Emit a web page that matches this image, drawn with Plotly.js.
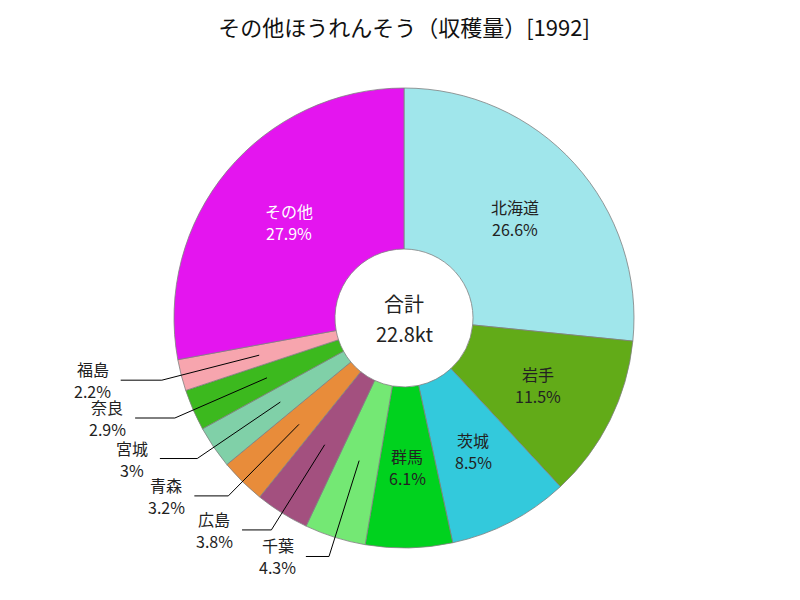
<!DOCTYPE html>
<html>
<head>
<meta charset="utf-8">
<script src="https://cdn.plot.ly/plotly-3.0.1.min.js"></script>
<style>body{margin:0;padding:0;background:#fff;}</style>
</head>
<body>
<div id="chart" style="width:800px;height:600px;"></div>
<script>
// ---- data ----
const labels = ["北海道", "岩手", "茨城", "群馬", "千葉", "広島", "青森", "宮城", "奈良", "福島", "その他"];
const values = [26.6, 11.5, 8.5, 6.1, 4.3, 3.8, 3.2, 3.0, 2.9, 2.2, 27.9];
const colors = ["#a0e6eb", "#62ab18", "#33c9dc", "#00d21e", "#74e874", "#a3507f", "#e88c3a", "#80d0a8", "#3cb91e", "#f7a5ae", "#e415ef"];
const totalLabel = "合計";
const totalText = "22.8kt";
const titleText = "その他ほうれんそう（収穫量）[1992]";

// ---- geometry ----
const W = 800, H = 600;
const m = {l: 8, r: 0, t: 88, b: 52};
const pw = W - m.l - m.r, ph = H - m.t - m.b;
const R = Math.min(pw, ph) / 2;
const cx = m.l + pw / 2, cy = m.t + ph / 2;
const toPX = x => (x - m.l) / pw;
const toPY = y => 1 - (y - m.t) / ph;
const FONT = "Noto Sans CJK JP, Noto Sans, sans-serif";

function fmtPct(v) {
  let s = (v * 100).toPrecision(3);
  if (s.indexOf('.') !== -1) s = s.replace(/[.]?0+$/, '');
  return s + '%';
}

const annotations = [];
function twoLine(x, y, a, b, size, color, gap) {
  [[a, y - gap], [b, y + gap]].forEach(([t, yy]) => {
    annotations.push({
      xref: 'paper', yref: 'paper', x: toPX(x), y: toPY(yy),
      xanchor: 'center', yanchor: 'middle', showarrow: false, text: t,
      borderpad: 0,
      font: {family: FONT, size: size, color: color}
    });
  });
}

const total = values.reduce((a, b) => a + b, 0);
const shapes = [];
let cum = 0;
values.forEach((v, i) => {
  const f = (cum + v / 2) / total;
  cum += v;
  const th = 2 * Math.PI * f;
  const sx = Math.sin(th), sy = -Math.cos(th);
  const pct = fmtPct(v / total);
  const inX = cx + 0.65 * R * sx, inY = cy + 0.65 * R * sy;
  if (v / total >= 0.05) {
    twoLine(inX, inY, labels[i], pct, 16, labels[i] === "その他" ? "#ffffff" : "#222222", 11);
  } else {
    const ex = cx + 1.087 * R * sx, ey = cy + 1.087 * R * sy;
    const endX = ex - (15 + 27 * Math.abs(sx));
    shapes.push({
      type: 'path', xref: 'paper', yref: 'paper',
      path: `M ${toPX(inX)} ${toPY(inY)} L ${toPX(ex)} ${toPY(ey)} L ${toPX(endX)} ${toPY(ey)}`,
      line: {color: '#000000', width: 1}
    });
    twoLine(endX - 28, ey, labels[i], pct, 16, '#222222', 11);
  }
});

twoLine(cx, cy, totalLabel, totalText, 20, '#222222', 15);

const trace = {
  type: 'pie',
  labels: labels,
  values: values,
  sort: false,
  direction: 'clockwise',
  rotation: 0,
  hole: 0.3,
  textinfo: 'none',
  marker: {colors: colors, line: {color: '#808080', width: 0.8}},
  showlegend: false
};

const layout = {
  width: W, height: H,
  margin: m,
  paper_bgcolor: '#ffffff',
  title: {
    text: titleText,
    font: {family: FONT, size: 22, color: '#111111'},
    x: 0.5, xref: 'paper', y: 1 - 28 / H, yanchor: 'middle'
  },
  annotations: annotations,
  shapes: shapes,
  showlegend: false
};

Plotly.newPlot('chart', [trace], layout, {displayModeBar: false, staticPlot: true});
</script>
</body>
</html>
